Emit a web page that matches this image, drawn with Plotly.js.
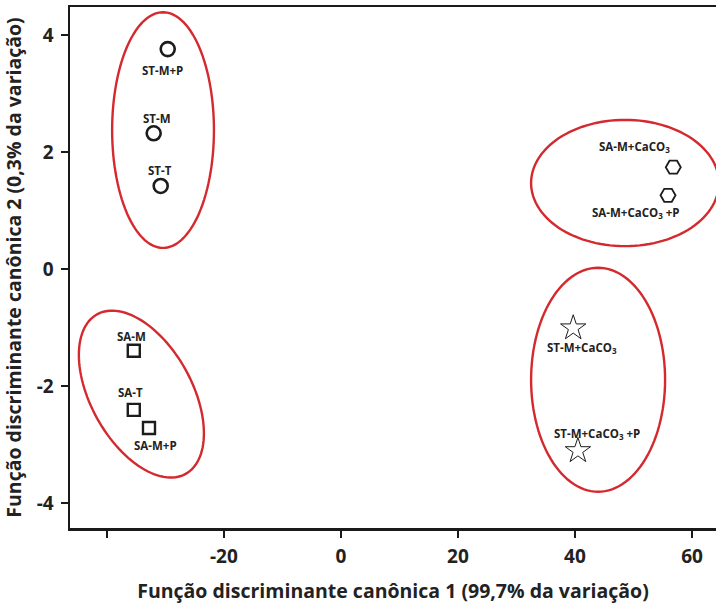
<!DOCTYPE html>
<html>
<head>
<meta charset="utf-8">
<script src="https://cdn.plot.ly/plotly-3.0.1.min.js"></script>
<style>html,body{margin:0;padding:0;overflow:hidden;background:#fff;}</style>
</head>
<body>
<div id="chart" style="width:716px;height:606px;"></div>
<script>
// ---- data ----
const circleLabels = ["ST-M+P", "ST-M", "ST-T"];
const circleX = [-29.6, -32.0, -30.8];
const circleY = [3.76, 2.32, 1.42];

const squareLabels = ["SA-M", "SA-T", "SA-M+P"];
const squareX = [-35.4, -35.4, -32.8];
const squareY = [-1.40, -2.41, -2.72];

const hexLabels = ["SA-M+CaCO<sub>3</sub>", "SA-M+CaCO<sub>3</sub> +P"];
const hexX = [56.8, 55.9];
const hexY = [1.74, 1.26];

const starLabels = ["ST-M+CaCO<sub>3</sub>", "ST-M+CaCO<sub>3</sub> +P"];
const starX = [39.7, 40.5];
const starY = [-1.01, -3.11];

const xTicks = [-40, -20, 0, 20, 40, 60];
const xTickText = ["", "-20", "0", "20", "40", "60"];
const yTicks = [-4, -2, 0, 2, 4];
const yTickText = ["-4", "-2", "0", "2", "4"];

// group ellipses: centre (data), semi-axes in x-units, rotation (deg, screen-like)
const ellCX = [-30.4, 48.55, 43.95, -34.1];
const ellCY = [2.375, 1.47, -1.895, -2.14];
const ellA = [8.7, 16.05, 11.45, 15.6];
const ellB = [20.15, 10.8, 19.15, 8.63];
const ellDeg = [0, 0, 0, -61];

// ---- styling / offsets (pixels) ----
const circleOff = [[-5, 21], [3, -15], [-1, -15]];
const squareOff = [[-2, -14], [-3, -17], [7, 17]];
const hexOff = [[-39, -20], [-32, 18]];
const starOff = [[9, 20], [19, -17]];

const K = 10; // y-to-x visual scale ratio
function ellPath(i) {
  const phi = ellDeg[i] * Math.PI / 180;
  let p = "";
  const n = 120;
  for (let j = 0; j <= n; j++) {
    const t = 2 * Math.PI * j / n;
    const u = ellA[i] * Math.cos(t), w = ellB[i] * Math.sin(t);
    const du = u * Math.cos(phi) - w * Math.sin(phi);
    const dv = u * Math.sin(phi) + w * Math.cos(phi);
    const x = ellCX[i] + du, y = ellCY[i] + dv / K;
    p += (j === 0 ? "M" : "L") + x.toFixed(4) + "," + y.toFixed(4);
  }
  return p + "Z";
}

const ink = "#1c1c1c";
const traces = [
  {x: circleX, y: circleY, mode: "markers", type: "scatter",
   marker: {symbol: "circle-open", size: 14, color: ink, line: {width: 2.6, color: ink}}},
  {x: squareX, y: squareY, mode: "markers", type: "scatter",
   marker: {symbol: "square-open", size: 12, color: ink, line: {width: 2.4, color: ink}}},
  {x: hexX, y: hexY, mode: "markers", type: "scatter",
   marker: {symbol: "hexagon2-open", size: 15, color: ink, line: {width: 1.8, color: ink}}},
  {x: starX, y: starY, mode: "markers", type: "scatter",
   marker: {symbol: "star-open", size: 19, color: ink, line: {width: 1, color: ink}}}
];

const annotations = [];
function addLabels(lbls, xs, ys, offs) {
  for (let i = 0; i < lbls.length; i++) {
    annotations.push({x: xs[i], y: ys[i], xref: "x", yref: "y", text: "<b>" + lbls[i] + "</b>",
      showarrow: false, xshift: offs[i][0], yshift: -offs[i][1],
      font: {family: "Open Sans", size: 11.5, color: "#222"}});
  }
}
addLabels(circleLabels, circleX, circleY, circleOff);
addLabels(squareLabels, squareX, squareY, squareOff);
addLabels(hexLabels, hexX, hexY, hexOff);
addLabels(starLabels, starX, starY, starOff);

const shapes = ellCX.map((_, i) => ({type: "path", xref: "x", yref: "y", path: ellPath(i),
  line: {color: "#d42a2f", width: 2.4}, fillcolor: "rgba(0,0,0,0)", layer: "below"}));

const bold = arr => arr.map(s => s === "" ? "" : "<b>" + s + "</b>");

const layout = {
  width: 716, height: 606,
  margin: {l: 70, r: 0, t: 7, b: 78},
  paper_bgcolor: "#fff", plot_bgcolor: "#fff",
  showlegend: false,
  font: {family: "Open Sans", color: "#222"},
  xaxis: {range: [-46.3, 64.1], tickvals: xTicks, ticktext: bold(xTickText),
    showgrid: false, zeroline: false, showline: true, mirror: true, linecolor: "#1a1a1a", linewidth: 2.5,
    ticks: "outside", ticklen: 7, tickwidth: 2, tickcolor: "#1a1a1a", ticklabelstandoff: 3,
    tickfont: {family: "Open Sans", size: 19, color: "#222"},
    title: {text: "<b>Função discriminante canônica 1 (99,7% da variação)</b>",
      font: {family: "Open Sans", size: 19.5, color: "#222"}}},
  yaxis: {range: [-4.43, 4.48], tickvals: yTicks, ticktext: bold(yTickText),
    showgrid: false, zeroline: false, showline: true, mirror: false, linecolor: "#1a1a1a", linewidth: 2.5,
    ticks: "outside", ticklen: 7, tickwidth: 2, tickcolor: "#1a1a1a", ticklabelstandoff: 3,
    tickfont: {family: "Open Sans", size: 19, color: "#222"},
    title: {text: "<b>Função discriminante canônica 2 (0,3% da variação)</b>",
      font: {family: "Open Sans", size: 19.5, color: "#222"}}},
  shapes: shapes,
  annotations: annotations
};

Plotly.newPlot("chart", traces, layout, {displayModeBar: false, staticPlot: true});
</script>
</body>
</html>
